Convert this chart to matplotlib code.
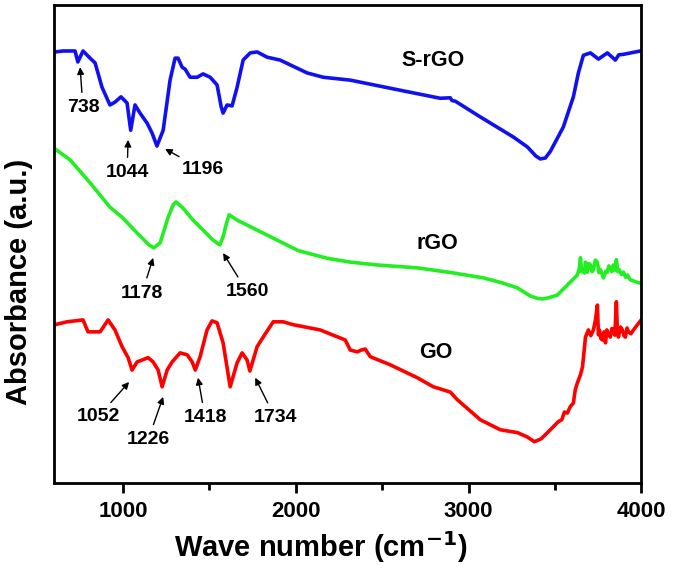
import matplotlib
matplotlib.use("Agg")
from matplotlib import pyplot as plt
from matplotlib import ticker

plt.rcParams['font.family'] = ['Liberation Sans', 'DejaVu Sans']
plt.rcParams['font.weight'] = 'bold'
plt.rcParams['mathtext.default'] = 'bf'

# =============================================================================
# FTIR spectra (wavenumber in cm-1, absorbance in a.u.)

srgo_wn = [606, 652, 722, 738, 768, 809, 838, 878, 924, 953, 988, 1023, 1044, 1069,
           1098, 1139, 1168, 1196, 1232, 1272, 1301, 1318, 1342, 1359, 1388, 1429,
           1463, 1504, 1544, 1568, 1579, 1602, 1631, 1660, 1695, 1736, 1776, 1834,
           1909, 2066, 2159, 2315, 2547, 2836, 2894, 2905, 2923, 3068, 3259, 3341,
           3390, 3416, 3445, 3474, 3549, 3607, 3636, 3665, 3706, 3752, 3804, 3850,
           3870, 3897, 3995]
srgo_ab = [90.2, 90.4, 90.4, 88.1, 90.4, 88.9, 87.9, 82.8, 79.1, 79.7, 80.8, 79.5, 73.8,
           79.1, 77.4, 75.3, 73.2, 70.5, 73.8, 84.3, 88.9, 88.9, 87.0, 86.6, 84.9, 84.9,
           85.6, 84.9, 83.3, 78.7, 77.4, 79.1, 78.9, 82.8, 88.5, 90.0, 90.2, 89.1,
           88.5, 85.8, 84.9, 84.3, 82.6, 80.5, 80.6, 80.0, 79.9, 76.6, 72.4, 70.3,
           68.4, 67.8, 68.0, 69.4, 74.5, 80.8, 85.8, 89.5, 90.0, 88.7, 90.0, 88.5,
           89.6, 89.7, 90.4]

rgo_wn = [606, 693, 809, 924, 994, 1081, 1150, 1178, 1214, 1261, 1290, 1307, 1347, 1405,
          1463, 1521, 1560, 1579, 1600, 1614, 1660, 1776, 1892, 2014, 2182, 2315,
          2471, 2703, 2900, 3086, 3200, 3283, 3358, 3400, 3428, 3460, 3514, 3572,
          3630, 3641, 3648, 3655, 3665, 3671, 3677, 3688, 3697, 3706, 3715, 3723,
          3734, 3746, 3755, 3764, 3781, 3795, 3804, 3812, 3821, 3830, 3839, 3848,
          3856, 3864, 3873, 3885, 3897, 3910, 3920, 3937, 3966, 3995]
rgo_ab = [69.9, 67.6, 62.8, 57.7, 55.6, 52.3, 49.8, 49.2, 50.2, 55.6, 58.2, 58.8, 57.5,
          55.0, 52.9, 50.8, 49.8, 51.5, 54.5, 56.1, 55.0, 52.9, 50.8, 48.6, 47.0,
          46.2, 45.6, 45.0, 44.0, 42.9, 41.8, 40.8, 39.1, 38.6, 38.5, 38.7, 39.3,
          41.4, 43.5, 44.8, 47.1, 44.2, 44.6, 43.9, 46.2, 44.1, 45.9, 45.6, 44.2,
          44.6, 46.6, 46.2, 44.0, 44.6, 42.9, 44.3, 44.1, 45.4, 45.0, 44.2, 45.6,
          44.5, 46.7, 44.2, 44.6, 43.6, 44.1, 43.0, 43.5, 42.5, 42.1, 41.8]

go_wn = [606, 675, 768, 797, 867, 913, 953, 994, 1029, 1052, 1081, 1145, 1174, 1203,
         1226, 1255, 1284, 1330, 1371, 1400, 1418, 1446, 1486, 1515, 1544, 1579,
         1620, 1660, 1689, 1718, 1734, 1776, 1811, 1869, 1927, 1985, 2141, 2286,
         2315, 2356, 2379, 2402, 2431, 2547, 2703, 2796, 2894, 2935, 3068, 3184,
         3283, 3340, 3381, 3420, 3457, 3520, 3540, 3555, 3572, 3590, 3607, 3618,
         3630, 3648, 3660, 3669, 3677, 3694, 3708, 3723, 3735, 3746, 3752, 3758,
         3766, 3775, 3784, 3793, 3801, 3810, 3821, 3830, 3839, 3847, 3856, 3862,
         3868, 3880, 3891, 3900, 3908, 3918, 3926, 3940, 3955, 3978, 4000]
go_ab = [33.1, 33.7, 34.1, 31.6, 31.6, 34.1, 32.0, 28.5, 26.2, 23.6, 25.3, 26.2, 25.3,
         23.6, 20.1, 23.6, 25.3, 27.2, 26.8, 25.3, 23.6, 26.4, 32.0, 33.9, 33.5, 29.3,
         20.1, 25.1, 27.2, 25.7, 23.4, 28.5, 30.5, 33.7, 33.7, 33.1, 32.0, 29.9,
         27.8, 27.4, 27.8, 28.0, 26.4, 24.7, 22.0, 20.1, 19.0, 17.4, 13.2, 11.1,
         10.5, 9.6, 8.6, 9.2, 10.5, 12.8, 13.2, 14.8, 14.6, 16.0, 16.7, 19.5,
         20.9, 22.6, 24.3, 27.5, 30.5, 32.0, 30.8, 32.0, 34.1, 37.2, 31.0, 32.0,
         30.2, 29.9, 31.6, 29.3, 32.0, 31.0, 30.5, 32.3, 32.0, 30.9, 37.9, 31.5,
         30.5, 32.6, 32.0, 30.8, 30.5, 32.4, 31.6, 31.2, 32.0, 33.1, 34.1]

# peak labels: (text, arrow head, text position)
peaks = [("738",  (751, 87.0),  (768, 78.5)),
         ("1044", (1029, 71.8), (1023, 64.9)),
         ("1196", (1243, 69.9), (1463, 65.5)),
         ("1178", (1174, 47.1), (1110, 39.7)),
         ("1560", (1579, 48.1), (1718, 40.0)),
         ("1052", (1035, 21.1), (855, 13.8)),
         ("1226", (1232, 18.0), (1145, 9.0)),
         ("1418", (1434, 22.0), (1475, 13.6)),
         ("1734", (1765, 22.0), (1880, 13.6))]

names = [("S-rGO", 2796, 88.5), ("rGO", 2819, 50.2), ("GO", 2813, 27.2)]

# =============================================================================

fig = plt.figure(figsize=(6.75, 5.7), dpi=100)
ax = fig.add_axes([0.08, 0.153, 0.87, 0.838])

ax.plot(srgo_wn, srgo_ab, color='#1010f0', lw=2.6, solid_joinstyle='round')
ax.plot(rgo_wn,  rgo_ab,  color='#22ee22', lw=2.6, solid_joinstyle='round')
ax.plot(go_wn,   go_ab,   color='#ff0000', lw=2.6, solid_joinstyle='round')

for txt, head, pos in peaks:
	ax.annotate(txt, xy=head, xytext=pos, ha='center', va='center',
	            fontsize=14, fontweight='bold',
	            arrowprops=dict(arrowstyle='-|>', color='black', lw=1.0,
	                            mutation_scale=10, shrinkA=3, shrinkB=0))

for txt, x, y in names:
	ax.text(x, y, txt, ha='center', va='center', fontsize=15.5, fontweight='bold')

ax.set_xlim(600, 4000)
ax.set_ylim(0, 100)
ax.xaxis.set_major_locator(ticker.MultipleLocator(1000))
ax.xaxis.set_minor_locator(ticker.MultipleLocator(500))
ax.set_yticks([])
ax.tick_params(axis='x', which='major', length=7, width=2, labelsize=16, pad=6)
ax.tick_params(axis='x', which='minor', length=5, width=2)
for lbl in ax.get_xticklabels():
	lbl.set_fontweight('bold')
for sp in ax.spines.values():
	sp.set_linewidth(2)

ax.set_xlabel("Wave number (cm$^{-1}$)", fontsize=21, fontweight='bold')
ax.xaxis.set_label_coords(0.455, -0.097)
ax.set_ylabel("Absorbance (a.u.)", fontsize=21, fontweight='bold')
ax.yaxis.set_label_coords(-0.035, 0.42)

plt.savefig("out.png", dpi=100)
